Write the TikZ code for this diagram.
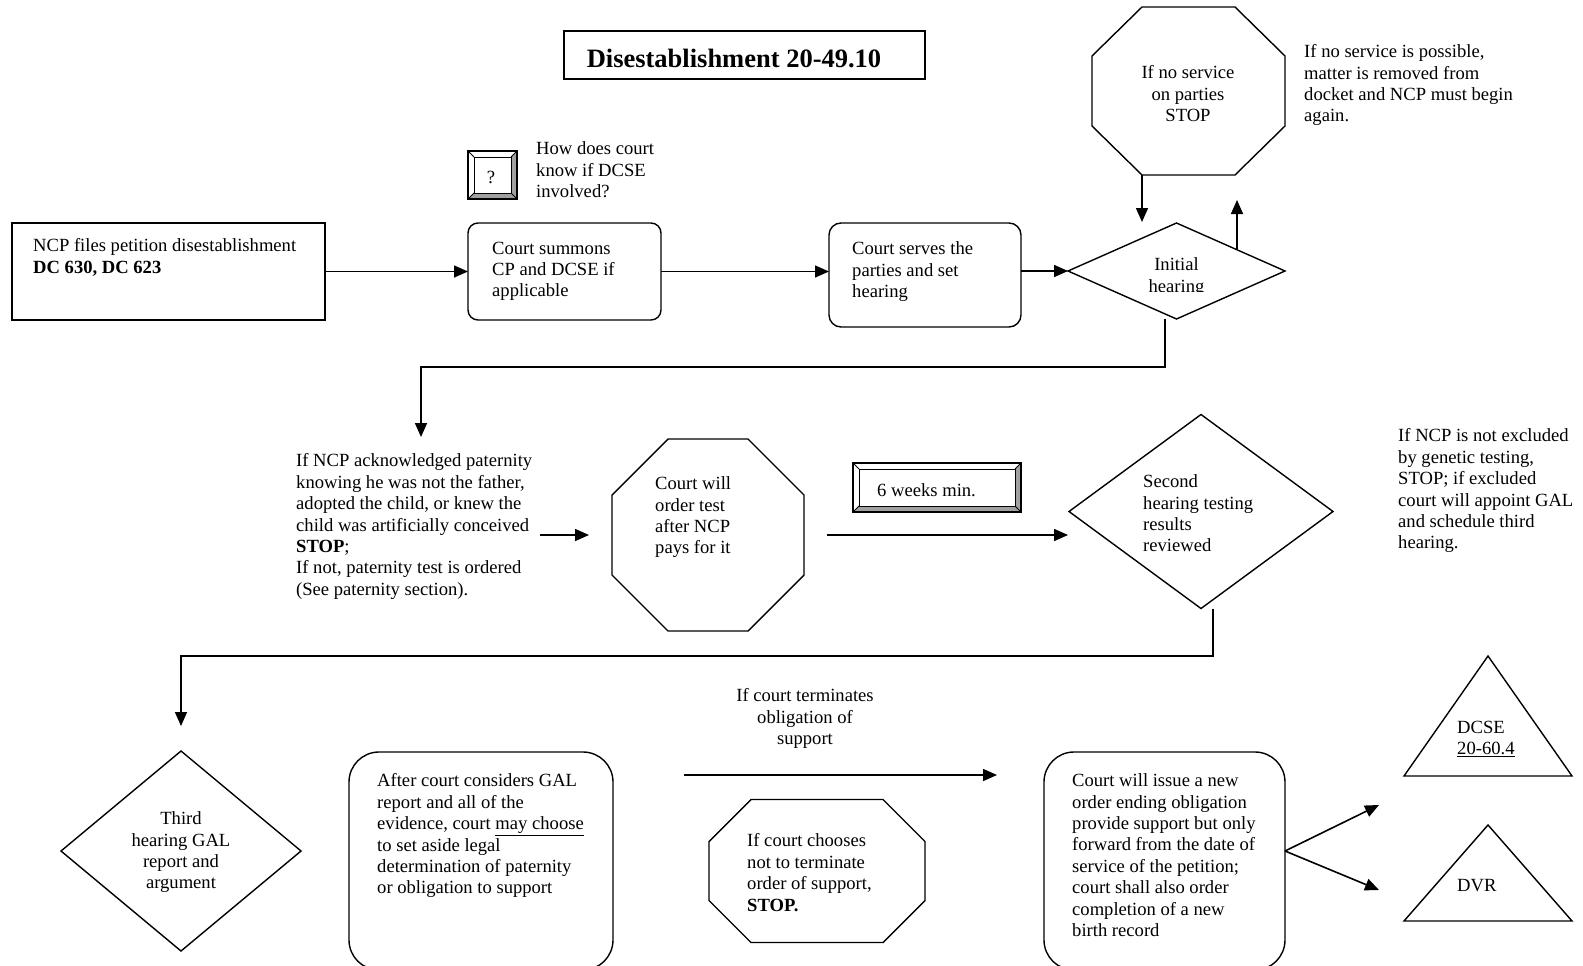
\documentclass[tikz,border=0pt]{standalone}
\usepackage{fontspec}
\setmainfont{Liberation Serif}
\usetikzlibrary{shapes.geometric,arrows.meta}
\definecolor{bevgray}{HTML}{A0A0A0}
\tikzset{
  txt/.style={inner sep=0pt, align=left, anchor=north west, yshift=-3.5pt, font=\fontsize{18.6}{21.4}\selectfont, execute at begin node=\strut},
  ctxt/.style={txt, align=center, anchor=north},
  shp/.style={draw, line width=1.4pt, inner sep=0pt, outer sep=0pt},
  ghost/.style={inner sep=0pt, outer sep=0pt},
  conn/.style={line width=1.6pt, -{Triangle[length=14pt,width=12pt]}},
}
\newcommand\myocto[3]{%
  \draw[line width=1.4pt] ([xshift=#2pt]#1.north west) -- ([xshift=-#2pt]#1.north east)
    -- ([yshift=-#3pt]#1.north east) -- ([yshift=#3pt]#1.south east)
    -- ([xshift=-#2pt]#1.south east) -- ([xshift=#2pt]#1.south west)
    -- ([yshift=#3pt]#1.south west) -- ([yshift=-#3pt]#1.north west) -- cycle;}
\newcommand\bevelbtn[2]{%
  \fill[bevgray] (#1.south west) -- (#1.south east) -- ([xshift=-#2pt,yshift=#2pt]#1.south east) -- ([xshift=#2pt,yshift=#2pt]#1.south west) -- cycle;
  \fill[bevgray] (#1.north east) -- (#1.south east) -- ([xshift=-#2pt,yshift=#2pt]#1.south east) -- ([xshift=-#2pt,yshift=-#2pt]#1.north east) -- cycle;
  \draw[line width=0.9pt] ([xshift=#2pt,yshift=-#2pt]#1.north west) rectangle ([xshift=-#2pt,yshift=#2pt]#1.south east);
  \draw[line width=0.9pt] (#1.north west) -- ([xshift=#2pt,yshift=-#2pt]#1.north west)
    (#1.north east) -- ([xshift=-#2pt,yshift=-#2pt]#1.north east)
    (#1.south west) -- ([xshift=#2pt,yshift=#2pt]#1.south west)
    (#1.south east) -- ([xshift=-#2pt,yshift=#2pt]#1.south east);
  \draw[line width=1.8pt] (#1.north west) rectangle (#1.south east);}
\begin{document}
\begin{tikzpicture}[x=1pt,y=-1pt]
\useasboundingbox (0,0) rectangle (1583,966);

% title
\node[shp, line width=1.5pt, minimum width=361pt, minimum height=48pt] (title) at (744.5,55) {};
\node[inner sep=0pt, font=\fontsize{26.5}{30}\selectfont\bfseries] (titletext) at (734,58) {Disestablishment 20-49.10};

% question button
\node[ghost, minimum width=49pt, minimum height=48pt, font=\fontsize{18.6}{21.4}\selectfont] (qb) at (492.5,175) {};
\bevelbtn{qb}{6}
\node[inner sep=0pt, font=\fontsize{18.6}{21.4}\selectfont] (qmark) at (491,177) {?};
\node[txt] (qtext) at (536,138) {How does court\\know if DCSE\\involved?};

% top row
\node[shp, line width=2pt, minimum width=313pt, minimum height=97pt] (box1) at (168.5,271.5) {};
\node[txt] (t1) at (33,235) {NCP files petition disestablishment\\\textbf{DC 630, DC 623}};

\node[shp, rounded corners=10pt, minimum width=193pt, minimum height=97pt] (box2) at (564.5,271.5) {};
\node[txt] (t2) at (492,238) {Court summons\\CP and DCSE if\\applicable};

\node[shp, rounded corners=12pt, minimum width=192pt, minimum height=104pt] (box3) at (925,275) {};
\node[txt] (t3) at (852,238) {Court serves the\\parties and set\\hearing};

\node[shp, diamond, minimum width=217pt, minimum height=96pt] (d1) at (1176.5,271) {};
\begin{scope}
  \clip (1090,240) rectangle (1260,291);
  \node[ctxt] (t4) at (1176.5,254) {Initial\\hearing};
\end{scope}

\node[ghost, minimum width=193pt, minimum height=168pt] (oct1) at (1188.5,91) {};
\myocto{oct1}{50}{49}
\node[ctxt] (t5) at (1188,62) {If no service\\on parties\\STOP};
\node[txt] (t6) at (1304,41) {If no service is possible,\\matter is removed from\\docket and NCP must begin\\again.};

\draw[conn] (box1.east) -- (box2.west);
\draw[conn] (box2.east) -- (box2.east -| box3.west);
\draw[conn] (box3.east |- d1.west) -- (d1.west);
\coordinate (d1in) at (1142,222);
\draw[conn] (oct1.south -| d1in) -- (d1in);
\coordinate (d1up) at (1237,248.5);
\coordinate (upend) at (1237,200);
\draw[conn] (d1up) -- (upend);

% middle row
\coordinate (b1) at (1165,367);
\coordinate (b2) at (421,367);
\coordinate (patin) at (421,437);
\draw[conn] (d1.south -| b1) -- (b1) -- (b2) -- (patin);

\node[txt] (pat) at (296,450) {If NCP acknowledged paternity\\knowing he was not the father,\\adopted the child, or knew the\\child was artificially conceived\\\textbf{STOP};\\If not, paternity test is ordered\\(See paternity section).};
\coordinate (p1) at (540,535);
\coordinate (p2) at (589,535);
\draw[conn] (p1) -- (p2);

\node[ghost, minimum width=192pt, minimum height=192pt] (oct2) at (708,535) {};
\myocto{oct2}{56}{56}
\node[txt] (t7) at (655,473) {Court will\\order test\\after NCP\\pays for it};

\node[ghost, minimum width=168pt, minimum height=49pt] (wk) at (937,487.5) {};
\bevelbtn{wk}{6}
\node[txt] (t8) at (877,478) {6 weeks min.};

\coordinate (d2in) at (1068,535);
\draw[conn] ([xshift=23pt]oct2.east) -- (d2in);

\node[shp, diamond, minimum width=264pt, minimum height=194pt] (d2) at (1201,511.5) {};
\node[txt] (t9) at (1143,471) {Second\\hearing testing\\results\\reviewed};
\node[txt] (t10) at (1398,425) {If NCP is not excluded\\by genetic testing,\\STOP; if excluded\\court will appoint GAL\\and schedule third\\hearing.};

\coordinate (b3) at (1213,656);
\coordinate (b4) at (181,656);
\coordinate (d3in) at (181,726);
\draw[conn] (d2.south -| b3) -- (b3) -- (b4) -- (d3in);

% bottom row
\node[shp, diamond, minimum width=240pt, minimum height=200pt] (d3) at (181,851) {};
\node[ctxt] (t11) at (181,808) {Third\\hearing GAL\\report and\\argument};

\node[shp, rounded corners=30pt, minimum width=264pt, minimum height=218pt] (box4) at (481,861) {};
\node[txt] (t12) at (377,770) {After court considers GAL\\report and all of the\\evidence, court \underline{may choose}\\to set aside legal\\determination of paternity\\or obligation to support};

\node[ctxt] (t13) at (805,685) {If court terminates\\obligation of\\support};
\coordinate (tA) at (684,775);
\coordinate (tB) at (997,775);
\draw[conn] (tA) -- (tB);

\node[ghost, minimum width=216pt, minimum height=143pt] (oct3) at (817,871) {};
\myocto{oct3}{42}{42}
\node[txt] (t14) at (747,830) {If court chooses\\not to terminate\\order of support,\\\textbf{STOP.}};

\node[shp, rounded corners=30pt, minimum width=241pt, minimum height=218pt] (box5) at (1164.5,861) {};
\node[txt] (t15) at (1072,770) {Court will issue a new\\order ending obligation\\provide support but only\\forward from the date of\\service of the petition;\\court shall also order\\completion of a new\\birth record};

\coordinate (bx5out) at (1285,851);
\coordinate (to1) at (1379,805);
\coordinate (to2) at (1379,890);
\draw[conn] (box5.east |- bx5out) -- (to1);
\draw[conn] (box5.east |- bx5out) -- (to2);

\node[ghost, minimum width=168pt, minimum height=120pt] (tri1) at (1488,716) {};
\draw[line width=1.4pt] (tri1.south west) -- (tri1.north) -- (tri1.south east) -- cycle;
\node[txt] (t16) at (1457,717) {DCSE\\\underline{20-60.4}};

\node[ghost, minimum width=168pt, minimum height=96pt] (tri2) at (1488,873) {};
\draw[line width=1.4pt] (tri2.south west) -- (tri2.north) -- (tri2.south east) -- cycle;
\node[txt] (t17) at (1457,873) {DVR};
\end{tikzpicture}
\end{document}
